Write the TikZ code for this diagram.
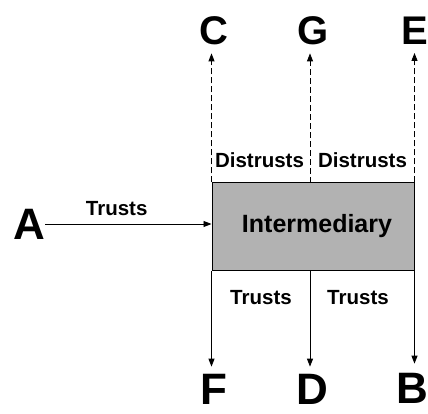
\documentclass[tikz,border=0pt]{standalone}
\usepackage{fontspec}
\setmainfont{Liberation Sans}
\usepackage{tikz}
\usetikzlibrary{arrows.meta}

\definecolor{boxgray}{RGB}{178,178,178}

\tikzset{
  party/.style={font=\bfseries\fontsize{40}{40}\selectfont, inner sep=0pt},
  bigparty/.style={font=\bfseries\fontsize{44}{44}\selectfont, inner sep=0pt},
  rel/.style={font=\bfseries\fontsize{20.5}{22}\selectfont, inner sep=0pt},
  tip/.style={-{Triangle[length=8pt,width=6pt]}, line width=0.9pt},
}

\begin{document}
\begin{tikzpicture}[x=1pt,y=-1pt]
  \useasboundingbox (0,0) rectangle (428,414);

  % the middle man
  \node [draw, fill=boxgray, line width=1pt, inner sep=0pt,
         minimum width=202pt, minimum height=87pt,
         font=\bfseries\fontsize{25}{25}\selectfont] (inter) at (313,226.5) {\hspace{8pt}Intermediary};
  \coordinate (midtop) at (310,183);
  \coordinate (midbot) at (310,270);

  % parties
  \node [bigparty] (A) at (29,224) {A};
  \node [party] (C) at (214,31) {C};
  \node [party] (G) at (313,31) {G};
  \node [party] (E) at (415,31) {E};
  \node [bigparty] (F) at (214,389) {F};
  \node [bigparty] (D) at (312,389) {D};
  \node [bigparty] (B) at (412,388) {B};

  % trust goes in and down
  \path (A) edge [tip] node [rel, pos=0.43, above=8pt] {Trusts} (A -| inter.west);
  \path (inter.south west) edge [tip, shorten >=7pt] (inter.south west |- F.north);
  \path (midbot) edge [tip, shorten >=7pt] (midbot |- D.north);
  \path (inter.south east) edge [tip, shorten >=9pt] (inter.south east |- B.north);
  \node [rel] (t1) at (261,298) {Trusts};
  \node [rel] (t2) at (358,298) {Trusts};

  % distrust goes up
  \path (inter.north west) edge [tip, dashed, dash pattern=on 6pt off 3pt, shorten >=8pt] (inter.north west |- C.south);
  \path (midtop) edge [tip, dashed, dash pattern=on 6pt off 3pt, shorten >=8pt] (midtop |- G.south);
  \path (inter.north east) edge [tip, dashed, dash pattern=on 6pt off 3pt, shorten >=8pt] (inter.north east |- E.south);
  \node [rel] (d1) at (259.5,160) {Distrusts};
  \node [rel] (d2) at (362.5,160) {Distrusts};
\end{tikzpicture}
\end{document}
